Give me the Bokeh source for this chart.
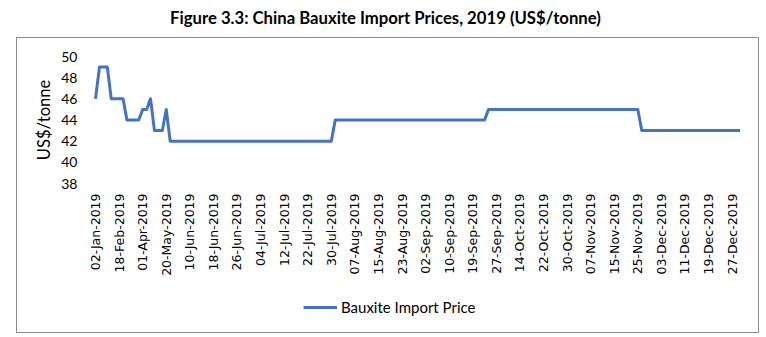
from bokeh.plotting import figure
from bokeh.models import (Range1d, FixedTicker, Legend, LegendItem, Label,
                          ColumnDataSource, InlineStyleSheet)
from bokeh.layouts import column
from bokeh.embed import file_html
from bokeh.resources import INLINE

# ---- data ----
title_text = "Figure 3.3: China Bauxite Import Prices, 2019 (US$/tonne)"
series_name = "Bauxite Import Price"
tick_labels = [
    "02-Jan-2019", "18-Feb-2019", "01-Apr-2019", "20-May-2019", "10-Jun-2019",
    "18-Jun-2019", "26-Jun-2019", "04-Jul-2019", "12-Jul-2019", "22-Jul-2019",
    "30-Jul-2019", "07-Aug-2019", "15-Aug-2019", "23-Aug-2019", "02-Sep-2019",
    "10-Sep-2019", "19-Sep-2019", "27-Sep-2019", "14-Oct-2019", "22-Oct-2019",
    "30-Oct-2019", "07-Nov-2019", "15-Nov-2019", "25-Nov-2019", "03-Dec-2019",
    "11-Dec-2019", "19-Dec-2019", "27-Dec-2019",
]
label_every = 6  # one axis label every 6 observations

prices = [
    46, 49, 49, 49, 46, 46, 46, 46, 44, 44, 44, 44, 45, 45, 46, 43, 43, 43, 45,
    42, 42, 42, 42, 42, 42, 42, 42, 42, 42, 42, 42, 42, 42, 42, 42, 42, 42, 42,
    42, 42, 42, 42, 42, 42, 42, 42, 42, 42, 42, 42, 42, 42, 42, 42, 42, 42, 42,
    42, 42, 42, 42,
    44, 44, 44, 44, 44, 44, 44, 44, 44, 44, 44, 44, 44, 44, 44, 44, 44, 44, 44,
    44, 44, 44, 44, 44, 44, 44, 44, 44, 44, 44, 44, 44, 44, 44, 44, 44, 44, 44,
    44,
    45, 45, 45, 45, 45, 45, 45, 45, 45, 45, 45, 45, 45, 45, 45, 45, 45, 45, 45,
    45, 45, 45, 45, 45, 45, 45, 45, 45, 45, 45, 45, 45, 45, 45, 45, 45, 45, 45,
    45,
    43, 43, 43, 43, 43, 43, 43, 43, 43, 43, 43, 43, 43, 43, 43, 43, 43, 43, 43,
    43, 43, 43, 43, 43, 43, 43,
]
obs = list(range(len(prices)))
y_ticks = [38, 40, 42, 44, 46, 48, 50]

src = ColumnDataSource(dict(x=obs, y=prices))

FONT = "Lato"
LINE_COLOR = "#4472C4"

# outer chart-area border drawn as a CSS overlay on the layout element
border_css = InlineStyleSheet(css="""
:host { position: relative; }
:host::after {
  content: "";
  position: absolute;
  left: 16px; top: 37px; width: 741px; height: 294px;
  border: 1px solid #8c8c8c;
  pointer-events: none;
}
""")

# ---- title strip ----
pt = figure(width=766, height=37, output_backend="svg", toolbar_location=None,
            x_range=Range1d(0, 1), y_range=Range1d(0, 1),
            x_axis_type=None, y_axis_type=None, min_border=0)
pt.outline_line_color = None
pt.grid.visible = False
pt.background_fill_color = "white"
pt.border_fill_color = "white"
pt.add_layout(Label(x=0.4545, y=0.54, text=title_text, text_align="center",
                    text_baseline="middle", text_font=FONT,
                    text_font_style="bold", text_font_size="16.7px",
                    text_color="black"))

# ---- main chart ----
p = figure(width=766, height=253, output_backend="svg", toolbar_location=None,
           x_range=Range1d(-2.55, 165.4), y_range=Range1d(38, 50),
           min_border_left=85, min_border_right=21, min_border_top=19,
           min_border_bottom=107)
p.outline_line_color = None
p.background_fill_color = "white"
p.border_fill_color = "white"
p.grid.visible = False

r = p.line("x", "y", source=src, line_color=LINE_COLOR, line_width=3,
           line_join="round")

# y axis
ya = p.yaxis[0]
ya.ticker = FixedTicker(ticks=y_ticks)
ya.axis_line_color = None
ya.major_tick_line_color = None
ya.minor_tick_line_color = None
ya.major_tick_out = 0
ya.major_tick_in = 0
ya.major_label_standoff = 8
ya.major_label_text_font = FONT
ya.major_label_text_font_size = "14px"
ya.major_label_text_color = "black"
ya.axis_label = "US$/tonne"
ya.axis_label_text_font = FONT
ya.axis_label_text_font_size = "16.5px"
ya.axis_label_text_font_style = "normal"
ya.axis_label_text_color = "black"
ya.axis_label_standoff = 4

# x axis
xa = p.xaxis[0]
tick_pos = obs[::label_every]
xa.ticker = FixedTicker(ticks=tick_pos)
xa.major_label_overrides = {t: s for t, s in zip(tick_pos, tick_labels)}
xa.major_label_orientation = 3.14159265 / 2
xa.axis_line_color = None
xa.major_tick_line_color = None
xa.minor_tick_line_color = None
xa.major_tick_out = 0
xa.major_tick_in = 0
xa.major_label_standoff = 10
xa.major_label_text_font = "DejaVu Sans"
xa.major_label_text_font_size = "12.5px"
xa.major_label_text_color = "black"

# ---- legend strip below the chart ----
pl = figure(width=766, height=47, output_backend="svg", toolbar_location=None,
            x_range=Range1d(0, 1), y_range=Range1d(0, 1),
            x_axis_type=None, y_axis_type=None, min_border=0)
pl.outline_line_color = None
pl.grid.visible = False
pl.background_fill_color = "white"
pl.border_fill_color = "white"
# same series; the strip's ranges keep it out of view, only its legend shows
rl = pl.line("x", "y", source=src, line_color=LINE_COLOR, line_width=3)
legend = Legend(items=[LegendItem(label=series_name, renderers=[rl])],
                location=(218, 20), orientation="horizontal",
                glyph_width=34, label_standoff=4, padding=0, margin=0,
                border_line_color=None, background_fill_alpha=0,
                label_text_font=FONT, label_text_font_size="15px",
                label_text_color="black")
pl.add_layout(legend, "center")

layout = column(pt, p, pl, spacing=0, stylesheets=[border_css])

open("out.html", "w").write(file_html(layout, INLINE))
